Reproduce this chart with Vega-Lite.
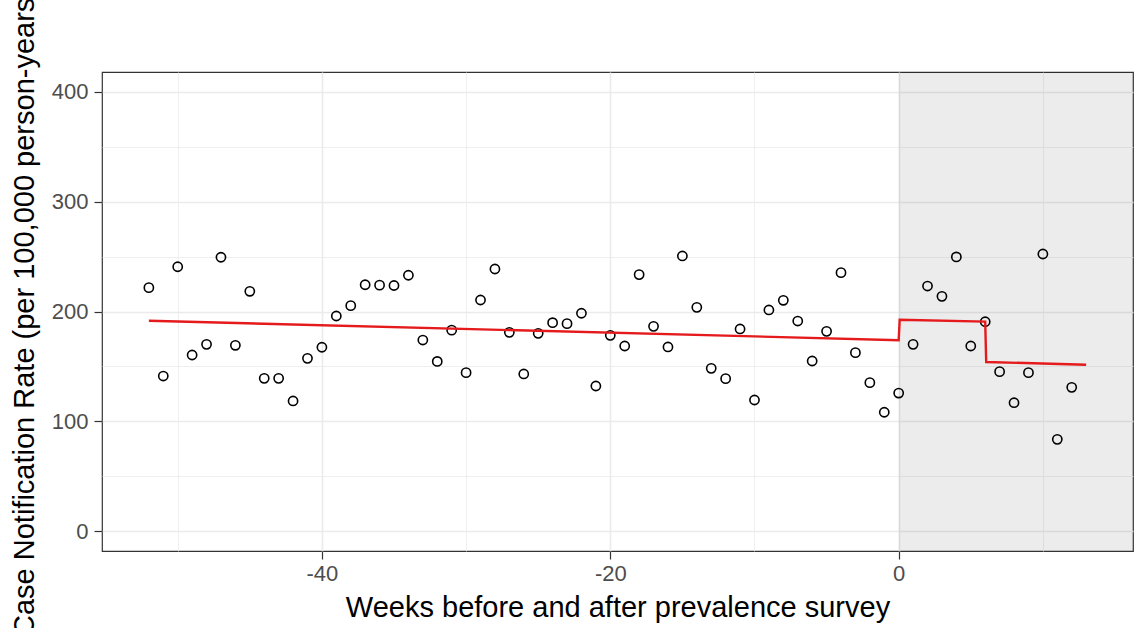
{
  "$schema": "https://vega.github.io/schema/vega-lite/v6.json",
  "autosize": "none",
  "width": 1031,
  "height": 479,
  "padding": {"left": 102, "top": 72, "right": 3, "bottom": 77},
  "background": "white",
  "config": {
    "font": "Liberation Sans",
    "view": {"stroke": "#333333", "strokeWidth": 1.2},
    "axis": {
      "domain": false,
      "gridColor": "#ebebeb",
      "tickColor": "#333333",
      "tickSize": 8,
      "tickWidth": 1.2,
      "labelColor": "#4d4d4d",
      "labelFontSize": 22,
      "labelFont": "Liberation Sans",
      "titleFont": "Liberation Sans",
      "titleFontSize": 29,
      "titleFontWeight": "normal",
      "titleColor": "#000000"
    }
  },
  "datasets": {
    "pts": [
      {"week": -52, "rate": 221.7}, {"week": -51, "rate": 141.2}, {"week": -50, "rate": 240.8},
      {"week": -49, "rate": 160.4}, {"week": -48, "rate": 170.1}, {"week": -47, "rate": 249.4},
      {"week": -46, "rate": 169.2}, {"week": -45, "rate": 218.4}, {"week": -44, "rate": 139.1},
      {"week": -43, "rate": 139.1}, {"week": -42, "rate": 118.5}, {"week": -41, "rate": 157.3},
      {"week": -40, "rate": 167.4}, {"week": -39, "rate": 195.9}, {"week": -38, "rate": 205.3},
      {"week": -37, "rate": 224.4}, {"week": -36, "rate": 224.0}, {"week": -35, "rate": 223.7},
      {"week": -34, "rate": 233.0}, {"week": -33, "rate": 174.0}, {"week": -32, "rate": 154.5},
      {"week": -31, "rate": 183.0}, {"week": -30, "rate": 144.3}, {"week": -29, "rate": 210.5},
      {"week": -28, "rate": 238.7}, {"week": -27, "rate": 181.0}, {"week": -26, "rate": 143.1},
      {"week": -25, "rate": 180.1}, {"week": -24, "rate": 189.8}, {"week": -23, "rate": 188.9},
      {"week": -22, "rate": 198.4}, {"week": -21, "rate": 132.1}, {"week": -20, "rate": 178.3},
      {"week": -19, "rate": 168.6}, {"week": -18, "rate": 233.6}, {"week": -17, "rate": 186.5},
      {"week": -16, "rate": 167.7}, {"week": -15, "rate": 250.6}, {"week": -14, "rate": 203.8},
      {"week": -13, "rate": 148.2}, {"week": -12, "rate": 138.8}, {"week": -11, "rate": 184.1},
      {"week": -10, "rate": 119.4}, {"week": -9, "rate": 201.4}, {"week": -8, "rate": 210.2},
      {"week": -7, "rate": 191.3}, {"week": -6, "rate": 154.9}, {"week": -5, "rate": 181.9},
      {"week": -4, "rate": 235.4}, {"week": -3, "rate": 162.5}, {"week": -2, "rate": 135.2},
      {"week": -1, "rate": 108.2}, {"week": 0, "rate": 125.7}, {"week": 1, "rate": 170.1},
      {"week": 2, "rate": 223.2}, {"week": 3, "rate": 213.8}, {"week": 4, "rate": 249.7},
      {"week": 5, "rate": 168.6}, {"week": 6, "rate": 190.7}, {"week": 7, "rate": 145.2},
      {"week": 8, "rate": 116.9}, {"week": 9, "rate": 144.3}, {"week": 10, "rate": 252.4},
      {"week": 11, "rate": 83.5}, {"week": 12, "rate": 130.9}
    ],
    "fit": [
      {"week": -52, "rate": 191.6, "ord": 1},
      {"week": 0, "rate": 173.9, "ord": 2},
      {"week": 0.07, "rate": 192.5, "ord": 3},
      {"week": 6, "rate": 190.8, "ord": 4},
      {"week": 6.07, "rate": 154.0, "ord": 5},
      {"week": 13, "rate": 151.5, "ord": 6}
    ],
    "shade": [
      {"x1": 0, "x2": 16.25, "y1": -18.2, "y2": 418.2}
    ]
  },
  "layer": [
    {
      "data": {"name": "shade"},
      "mark": {"type": "rect", "color": "#000000", "opacity": 0.075, "clip": true},
      "encoding": {
        "x": {
          "field": "x1", "type": "quantitative",
          "scale": {"domain": [-55.25, 16.25], "nice": false, "zero": false},
          "axis": {
            "title": "Weeks before and after prevalence survey",
            "values": [-50, -40, -30, -20, -10, 0, 10],
            "labelExpr": "datum.value % 20 == 0 ? toString(datum.value) : ''",
            "tickOpacity": {"condition": {"test": "datum.value % 20 == 0", "value": 1}, "value": 0},
            "gridWidth": {"condition": {"test": "datum.value % 20 == 0", "value": 1.6}, "value": 0.8},
            "labelPadding": 4,
            "titleY": 65,
            "titleBaseline": "alphabetic"
          }
        },
        "x2": {"field": "x2"},
        "y": {
          "field": "y1", "type": "quantitative",
          "scale": {"domain": [-18.2, 418.2], "nice": false, "zero": false},
          "axis": {
            "title": "Case Notification Rate (per 100,000 person-years)",
            "values": [0, 50, 100, 150, 200, 250, 300, 350, 400],
            "labelExpr": "datum.value % 100 == 0 ? toString(datum.value) : ''",
            "tickOpacity": {"condition": {"test": "datum.value % 100 == 0", "value": 1}, "value": 0},
            "gridWidth": {"condition": {"test": "datum.value % 100 == 0", "value": 1.6}, "value": 0.8},
            "labelPadding": 6,
            "titleAngle": -90,
            "titleX": -69,
            "titleY": 239.5,
            "titleAlign": "center",
            "titleBaseline": "alphabetic"
          }
        },
        "y2": {"field": "y2"}
      }
    },
    {
      "data": {"name": "pts"},
      "mark": {"type": "point", "shape": "circle", "filled": false, "stroke": "#000000", "strokeWidth": 1.6, "size": 85, "opacity": 1},
      "encoding": {
        "x": {"field": "week", "type": "quantitative"},
        "y": {"field": "rate", "type": "quantitative"}
      }
    },
    {
      "data": {"name": "fit"},
      "mark": {"type": "line", "color": "#e41a1c", "strokeWidth": 2.4},
      "encoding": {
        "x": {"field": "week", "type": "quantitative"},
        "y": {"field": "rate", "type": "quantitative"},
        "order": {"field": "ord", "type": "quantitative"}
      }
    }
  ]
}
